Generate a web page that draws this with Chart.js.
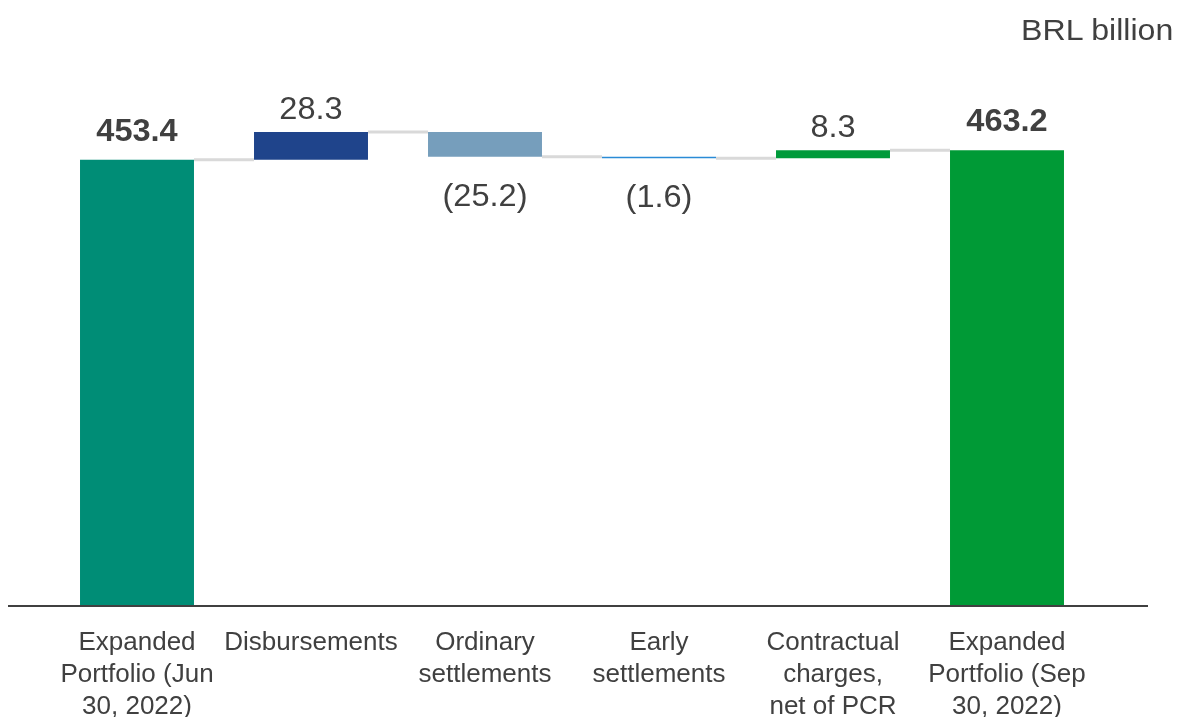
<!DOCTYPE html>
<html>
<head>
<meta charset="utf-8">
<script src="https://cdn.jsdelivr.net/npm/chart.js@4.4.1/dist/chart.umd.min.js"></script>
<style>
  html, body { margin: 0; padding: 0; background: #fff; }
  #wrap { position: relative; width: 1181px; height: 717px; }
  #unit { position: absolute; right: 8px; top: 13px; font: 30px "Liberation Sans", Arial, sans-serif; color: #404040;
          transform: scaleX(1.07); transform-origin: right center; }
</style>
</head>
<body>
<div id="wrap">
  <canvas id="waterfall" width="1181" height="717"></canvas>
  <div id="unit">BRL billion</div>
</div>
<script>
// dados do gráfico (BRL bilhőes)
const categories = [
    ['Expanded', 'Portfolio (Jun', '30, 2022)'],
    'Disbursements',
    ['Ordinary', 'settlements'],
    ['Early', 'settlements'],
    ['Contractual', 'charges,', 'net of PCR'],
    ['Expanded', 'Portfolio (Sep', '30, 2022)']
];
const changes = [453.4, 28.3, -25.2, -1.6, 8.3, 463.2];
const isTotal = [true, false, false, false, false, true];
const barColors = ['#008D76', '#1F448B', '#769EBC', '#2A8BD6', '#009A3A', '#009A36'];

// monta as barras flutuantes [base, topo]
let running = 0;
const floating = changes.map((v, i) => {
    if (isTotal[i]) { running = v; return [0, v]; }
    const start = running;
    running = +(running + v).toFixed(1);
    return [start, running];
});

const fmt = v => v < 0 ? '(' + Math.abs(v).toFixed(1) + ')' : v.toFixed(1);

// linhas de ligaçăo entre barras + eixo + rótulos
const connectorPlugin = {
    id: 'connectors',
    beforeDatasetsDraw(chart) {
        const ctx = chart.ctx;
        const meta = chart.getDatasetMeta(0);
        const y = chart.scales.y;
        ctx.save();
        ctx.strokeStyle = '#D9D9D9';
        ctx.lineWidth = 3;
        for (let i = 0; i < meta.data.length - 1; i++) {
            const a = meta.data[i], b = meta.data[i + 1];
            const py = y.getPixelForValue(floating[i][1]);
            ctx.beginPath();
            ctx.moveTo(a.x + a.width / 2, py);
            ctx.lineTo(b.x - b.width / 2, py);
            ctx.stroke();
        }
        ctx.restore();
    },
    afterDatasetsDraw(chart) {
        const ctx = chart.ctx;
        const meta = chart.getDatasetMeta(0);
        const y = chart.scales.y;
        ctx.save();
        const py0 = y.getPixelForValue(0);
        ctx.strokeStyle = '#404040';
        ctx.lineWidth = 2;
        ctx.beginPath();
        ctx.moveTo(8, py0 + 1);
        ctx.lineTo(1148, py0 + 1);
        ctx.stroke();

        ctx.fillStyle = '#404040';
        ctx.textAlign = 'center';
        ctx.textBaseline = 'alphabetic';
        meta.data.forEach((bar, i) => {
            const v = changes[i];
            const top = y.getPixelForValue(Math.max(...floating[i]));
            const bottom = y.getPixelForValue(Math.min(...floating[i]));
            ctx.font = (isTotal[i] ? 'bold ' : '') + '31px "Liberation Sans", Arial, sans-serif';
            const ty = v >= 0 ? top - (isTotal[i] ? 19 : 13) : bottom + 49;
            ctx.save();
            ctx.translate(bar.x, ty);
            ctx.scale(1.05, 1);
            ctx.fillText(fmt(v), 0, 0);
            ctx.restore();
        });
        ctx.restore();
    }
};

new Chart(document.getElementById('waterfall'), {
    type: 'bar',
    data: {
        labels: categories,
        datasets: [{
            data: floating,
            backgroundColor: barColors,
            borderWidth: 0,
            barPercentage: 0.655,
            categoryPercentage: 1
        }]
    },
    options: {
        responsive: false,
        animation: false,
        layout: { padding: { left: 50, right: 87, top: 114, bottom: 0 } },
        plugins: { legend: { display: false }, tooltip: { enabled: false } },
        scales: {
            x: {
                grid: { display: false, drawTicks: false },
                border: { display: false },
                ticks: {
                    color: '#404040',
                    padding: 22,
                    autoSkip: false,
                    maxRotation: 0,
                    font: { family: '"Liberation Sans", Arial, sans-serif', size: 26, lineHeight: 1.23 }
                },
                afterFit(scale) { scale.height = 112; }
            },
            y: {
                display: false,
                min: 0,
                max: 500
            }
        }
    },
    plugins: [connectorPlugin]
});
</script>
</body>
</html>
